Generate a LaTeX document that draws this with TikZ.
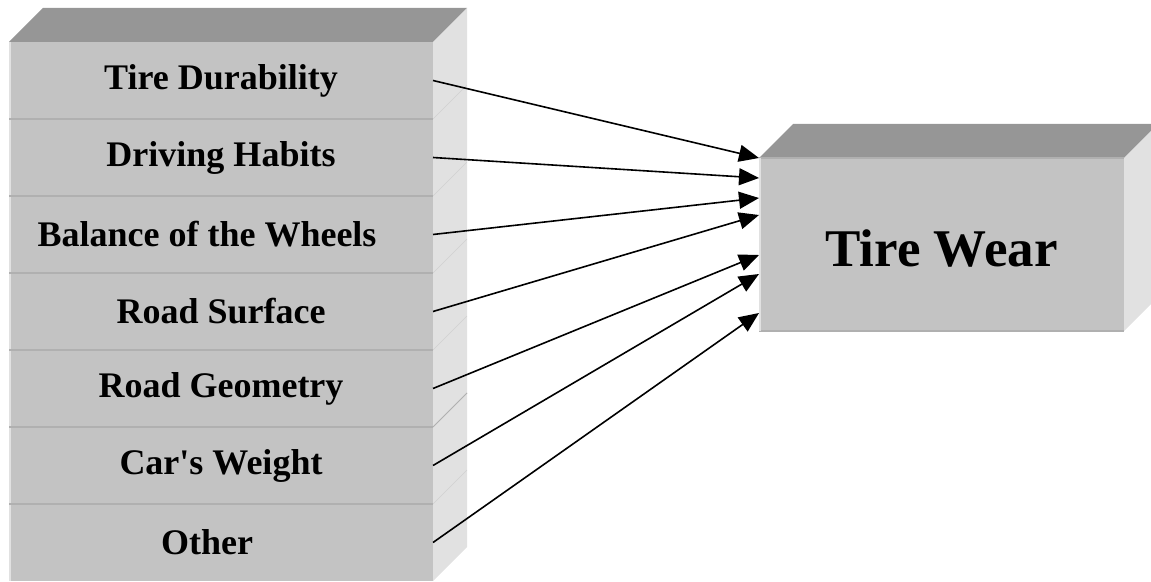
\documentclass[tikz,border=0pt]{standalone}
\usepackage{fontspec}
\setmainfont{Liberation Serif}
\usetikzlibrary{positioning, arrows.meta}
\definecolor{frontgray}{RGB}{195,195,195}
\definecolor{topgray}{RGB}{150,150,150}
\definecolor{sidegray}{RGB}{225,225,225}
\definecolor{edgegray}{RGB}{176,176,176}
\definecolor{seamgray}{RGB}{208,208,208}

\begin{document}
\begin{tikzpicture}[
  node distance=0pt,
  row/.style={fill=frontgray, inner sep=0pt, outer sep=0pt, minimum width=212pt,
              minimum height=38.5pt, font=\fontsize{18}{20}\selectfont\bfseries},
  wearbox/.style={fill=frontgray, inner sep=0pt, outer sep=0pt, minimum width=182.5pt,
              minimum height=86.5pt, font=\fontsize{26.5}{30}\selectfont\bfseries},
  topface/.style={fill=topgray},
  sideface/.style={fill=sidegray},
  seam/.style={draw=seamgray, line width=0.3pt},
  arr/.style={-{Triangle[length=10pt, width=8.5pt]}, line width=0.8pt}
]
\clip (0,0) rectangle (575.5pt,-291pt);
\def\dep{17pt}

\node[row, anchor=north west] (r1) at (4.5pt,-21pt) {Tire Durability};
\node[row, below=of r1] (r2) {Driving Habits};
\node[row, below=of r2] (r3) {\hspace*{-14pt}Balance of the Wheels};
\node[row, below=of r3] (r4) {Road Surface};
\node[row, below=of r4] (r5) {Road Geometry};
\node[row, below=of r5] (r6) {Car\textquotesingle s Weight};
\node[row, below=of r6] (r7) {\hspace*{-14pt}Other};

% faces of the stack
\fill[topface] (r1.north west) -- ++(\dep,\dep) -- ([shift={(\dep,\dep)}]r1.north east)
  -- (r1.north east) -- cycle;
\fill[sideface] (r1.north east) -- ++(\dep,\dep) -- ([shift={(\dep,\dep)}]r7.south east)
  -- (r7.south east) -- cycle;
\draw[sidegray, line width=1pt] ([xshift=0.5pt]r1.north west) -- ([xshift=0.5pt]r7.south west);
\foreach \k in {2,...,7} {
  \draw[edgegray, line width=1pt] (r\k.north west) -- (r\k.north east);
  \draw[seam] (r\k.north east) -- ++(\dep,\dep);
}
\draw[edgegray, line width=0.4pt] (r6.north east) -- ++(\dep,\dep);

\node[wearbox, anchor=north west] (wear) at (379.5pt,-79pt)
  {\raisebox{-2pt}[\height][\depth]{Tire Wear}};

% faces of the target box
\fill[topface] (wear.north west) -- ++(\dep,\dep) -- ([shift={(\dep,\dep)}]wear.north east)
  -- (wear.north east) -- cycle;
\fill[sideface] (wear.north east) -- ++(\dep,\dep) -- ([shift={(\dep,\dep)}]wear.south east)
  -- (wear.south east) -- cycle;
\draw[edgegray, line width=0.8pt] (wear.north west) -- (wear.north east);
\draw[edgegray, line width=0.8pt] (wear.south west) -- (wear.south east);
\draw[sidegray, line width=1pt] ([xshift=0.5pt]wear.north west) -- ([xshift=0.5pt]wear.south west);

\foreach \k/\dy in {1/0, 2/10, 3/20, 4/28.5, 5/48.5, 6/58, 7/77.5}
  \draw[arr] (r\k.east) -- ([yshift=-\dy pt]wear.north west);
\end{tikzpicture}
\end{document}
